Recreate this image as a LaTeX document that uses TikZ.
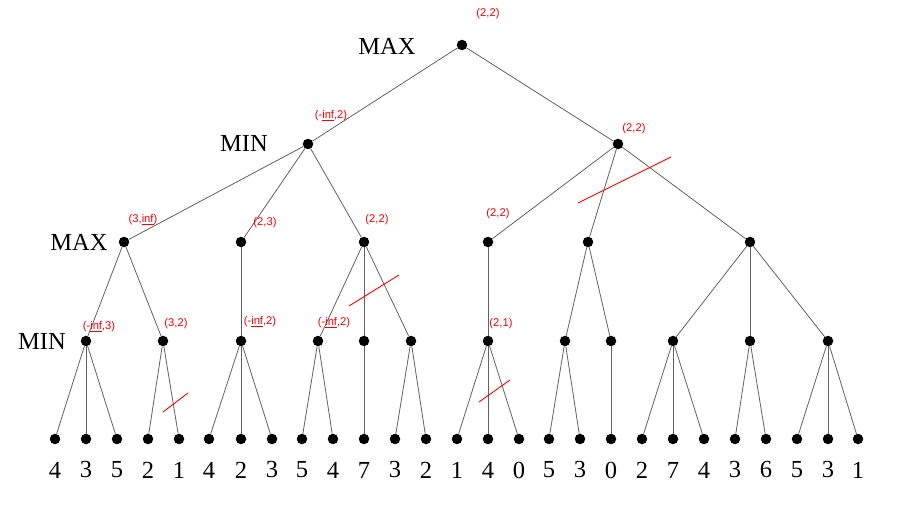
\documentclass[tikz,border=0pt]{standalone}
\usepackage{fontspec}
\setmainfont{Liberation Serif}
\newfontfamily\lblfont{Liberation Sans}
\begin{document}
\begin{tikzpicture}[x=1pt,y=-1pt,
  dot/.style={circle,fill=black,inner sep=0pt,minimum size=10.5pt},
  edge/.style={draw=black!62,line width=0.8pt},
  val/.style={font=\fontsize{24.5}{28}\selectfont,inner sep=0pt},
  lvl/.style={font=\fontsize{24.5}{28}\selectfont,inner sep=0pt},
  ab/.style={font=\lblfont\fontsize{11.2}{13}\selectfont,text=red,inner sep=0pt,anchor=base},
  cut/.style={draw=red,line width=0.9pt}]
\useasboundingbox (0,0) rectangle (924,521);
% level labels
\node[lvl] (L0) at (387,46) {MAX};
\node[lvl] (L1) at (244,143) {MIN};
\node[lvl] (L2) at (79,242) {MAX};
\node[lvl] (L3) at (42,341) {MIN};
% internal nodes
\node[dot] (r) at (462,45) {};
\node[dot] (A) at (308,144) {};
\node[dot] (B) at (618,144) {};
\node[dot] (A1) at (124,242) {};
\node[dot] (A2) at (241,242) {};
\node[dot] (A3) at (364,242) {};
\node[dot] (B1) at (488,242) {};
\node[dot] (B2) at (588,242) {};
\node[dot] (B3) at (750,242) {};
\node[dot] (m1) at (86,341) {};
\node[dot] (m2) at (163,341) {};
\node[dot] (m3) at (241,341) {};
\node[dot] (m4) at (318,341) {};
\node[dot] (m5) at (364,341) {};
\node[dot] (m6) at (411,341) {};
\node[dot] (m7) at (488,341) {};
\node[dot] (m8) at (565,341) {};
\node[dot] (m9) at (611,341) {};
\node[dot] (m10) at (673,341) {};
\node[dot] (m11) at (750,341) {};
\node[dot] (m12) at (828,341) {};
% leaves
\foreach \i/\x/\v in {1/55/4,2/86/3,3/117/5,4/148/2,5/179/1,6/209/4,7/241/2,8/272/3,9/302/5,10/333/4,11/364/7,12/395/3,13/426/2,14/457/1,15/488/4,16/519/0,17/549/5,18/580/3,19/611/0,20/642/2,21/673/7,22/704/4,23/735/3,24/766/6,25/797/5,26/828/3,27/858/1}{
  \node[dot] (l\i) at (\x,439) {};
  \node[val] (v\i) at (\x,470) {\v};
}
% edges
\foreach \a/\b in {r/A,r/B,A/A1,A/A2,A/A3,B/B1,B/B2,B/B3,
  A1/m1,A1/m2,A2/m3,A3/m4,A3/m5,A3/m6,B1/m7,B2/m8,B2/m9,B3/m10,B3/m11,B3/m12,
  m1/l1,m1/l2,m1/l3,m2/l4,m2/l5,m3/l6,m3/l7,m3/l8,m4/l9,m4/l10,m5/l11,m6/l12,m6/l13,
  m7/l14,m7/l15,m7/l16,m8/l17,m8/l18,m9/l19,m10/l20,m10/l21,m10/l22,m11/l23,m11/l24,
  m12/l25,m12/l26,m12/l27}{
  \draw[edge] (\a) -- (\b);
}
% alpha-beta labels
\node[ab] (t0) at (488,17) {(2,2)};
\node[ab] (tA) at (331,119) {(-\underline{inf},2)};
\node[ab] (tB) at (634,132) {(2,2)};
\node[ab] (tA1) at (143,223) {(3,\underline{inf})};
\node[ab] (tA2) at (265,226) {(2,3)};
\node[ab] (tA3) at (377,223) {(2,2)};
\node[ab] (tB1) at (498,217) {(2,2)};
\node[ab] (tm1) at (99,330) {(-\underline{inf},3)};
\node[ab] (tm2) at (176,327) {(3,2)};
\node[ab] (tm3) at (260,325) {(-\underline{inf},2)};
\node[ab] (tm4) at (334,326) {(-\underline{inf},2)};
\node[ab] (tm7) at (501,327) {(2,1)};
% cut marks
\coordinate (c1a) at (578,203); \coordinate (c1b) at (671,157);
\coordinate (c2a) at (349,306); \coordinate (c2b) at (399,275);
\coordinate (c3a) at (163,412); \coordinate (c3b) at (188,393);
\coordinate (c4a) at (479,402); \coordinate (c4b) at (510,380);
\draw[cut] (c1a) -- (c1b);
\draw[cut] (c2a) -- (c2b);
\draw[cut] (c3a) -- (c3b);
\draw[cut] (c4a) -- (c4b);
\end{tikzpicture}
\end{document}
